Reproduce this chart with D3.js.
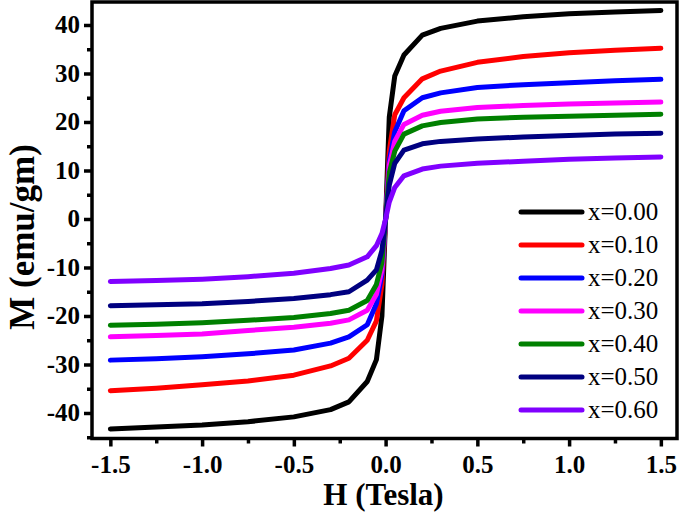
<!DOCTYPE html>
<html lang="en">
<head>
  <meta charset="UTF-8" />
  <title>M-H loops</title>
  <script src="https://d3js.org/d3.v7.min.js"></script>
  <style>
    body { margin: 0; background: #fff; }
    svg { display: block; font-family: "Liberation Serif", "Times New Roman", serif; }
  </style>
</head>
<body>
  <svg id="chart" width="685" height="512"></svg>
  <script>
    // field values (Tesla)
    const fieldH = [-1.5, -1.25, -1.0, -0.75, -0.5, -0.3, -0.2, -0.1, -0.05, -0.02, 0,
                    0.02, 0.05, 0.1, 0.2, 0.3, 0.5, 0.75, 1.0, 1.25, 1.5];

    const seriesNames = ["x=0.00", "x=0.10", "x=0.20", "x=0.30", "x=0.40", "x=0.50", "x=0.60"];
    const seriesColors = ["#000000", "#ff0000", "#0000ff", "#ff00ff", "#008000", "#000080", "#8000ff"];

    // magnetisation (emu/gm)
    const mX000 = [-43.3, -42.9, -42.5, -41.8, -40.8, -39.3, -37.7, -33.5, -29.0, -20.0, 0,
                   21.0, 29.5, 33.8, 37.9, 39.3, 40.8, 41.7, 42.3, 42.7, 43.0];
    const mX010 = [-35.4, -34.9, -34.2, -33.4, -32.2, -30.3, -28.7, -25.0, -21.0, -13.5, 0,
                   14.0, 21.5, 25.0, 28.9, 30.5, 32.3, 33.5, 34.3, 34.8, 35.2];
    const mX020 = [-29.1, -28.8, -28.4, -27.8, -27.0, -25.6, -24.3, -21.8, -17.5, -11.5, 0,
                   12.0, 18.0, 22.3, 25.0, 26.0, 27.1, 27.7, 28.1, 28.5, 28.8];
    const mX030 = [-24.3, -24.0, -23.7, -23.0, -22.3, -21.5, -20.8, -18.8, -15.5, -10.5, 0,
                   11.0, 16.0, 19.5, 21.4, 22.2, 23.0, 23.4, 23.7, 23.9, 24.1];
    const mX040 = [-21.9, -21.7, -21.4, -20.9, -20.3, -19.5, -18.8, -16.8, -13.5, -9.0, 0,
                   9.5, 14.0, 17.5, 19.2, 19.9, 20.6, 21.0, 21.2, 21.4, 21.6];
    const mX050 = [-17.9, -17.7, -17.5, -17.0, -16.4, -15.6, -15.0, -12.6, -10.5, -6.5, 0,
                   7.0, 11.5, 14.2, 15.5, 16.0, 16.5, 16.9, 17.2, 17.5, 17.7];
    const mX060 = [-12.9, -12.7, -12.4, -11.9, -11.2, -10.2, -9.5, -7.8, -5.5, -3.0, 0,
                   3.5, 6.5, 8.9, 10.3, 10.9, 11.5, 11.9, 12.3, 12.6, 12.8];

    const seriesValues = [mX000, mX010, mX020, mX030, mX040, mX050, mX060];

    const xTicks = [-1.5, -1.0, -0.5, 0.0, 0.5, 1.0, 1.5];
    const xMinor = [-1.25, -0.75, -0.25, 0.25, 0.75, 1.25];
    const yTicks = [-40, -30, -20, -10, 0, 10, 20, 30, 40];
    const yMinor = [-45, -35, -25, -15, -5, 5, 15, 25, 35];

    const svg = d3.select("#chart");
    const plot = { left: 92, right: 677, top: 2, bottom: 438.5 };
    const serif = '"Liberation Serif", "Times New Roman", serif';

    const x = d3.scaleLinear().domain([-1.6, 1.588]).range([plot.left, plot.right]);
    const y = d3.scaleLinear().domain([-45.26, 44.74]).range([plot.bottom, plot.top]);

    // curves
    const line = d3.line()
      .x((d, i) => x(fieldH[i]))
      .y(d => y(d));

    seriesValues.forEach((vals, k) => {
      svg.append("path")
        .datum(vals)
        .attr("d", line)
        .attr("fill", "none")
        .attr("stroke", seriesColors[k])
        .attr("stroke-width", 5)
        .attr("stroke-linecap", "round")
        .attr("stroke-linejoin", "round");
    });

    // frame
    svg.append("rect")
      .attr("x", plot.left).attr("y", plot.top)
      .attr("width", plot.right - plot.left)
      .attr("height", plot.bottom - plot.top)
      .attr("fill", "none")
      .attr("stroke", "#000")
      .attr("stroke-width", 3.5);

    // axes
    const minus = s => s.replace("\u2212", "-");

    function styleAxis(g) {
      g.attr("font-family", serif).attr("font-size", 25).attr("font-weight", "bold");
      g.select(".domain").remove();
      g.selectAll(".tick line").attr("stroke", "#000").attr("stroke-width", 3.5);
      g.selectAll(".tick text").attr("fill", "#000");
    }

    svg.append("g")
      .attr("transform", `translate(0,${plot.bottom})`)
      .call(d3.axisBottom(x).tickValues(xTicks).tickFormat(d => minus(d3.format(".1f")(d)))
        .tickSize(8).tickPadding(9))
      .call(styleAxis);

    svg.append("g")
      .attr("transform", `translate(0,${plot.bottom})`)
      .call(d3.axisBottom(x).tickValues(xMinor).tickFormat("").tickSize(5))
      .call(styleAxis);

    svg.append("g")
      .attr("transform", `translate(${plot.left},0)`)
      .call(d3.axisLeft(y).tickValues(yTicks).tickFormat(d => minus(d3.format("d")(d)))
        .tickSize(8).tickPadding(4))
      .call(styleAxis);

    svg.append("g")
      .attr("transform", `translate(${plot.left},0)`)
      .call(d3.axisLeft(y).tickValues(yMinor).tickFormat("").tickSize(5))
      .call(styleAxis);

    // axis titles
    svg.append("text")
      .attr("x", (plot.left + plot.right) / 2 - 1)
      .attr("y", 505)
      .attr("text-anchor", "middle")
      .attr("font-weight", "bold")
      .attr("font-size", 31)
      .text("H (Tesla)");

    svg.append("text")
      .attr("transform", "translate(34,237) rotate(-90)")
      .attr("text-anchor", "middle")
      .attr("font-weight", "bold")
      .attr("font-size", 35)
      .text("M (emu/gm)");

    // legend
    const legendTop = 212, legendStep = 33;
    seriesNames.forEach((name, k) => {
      const ly = legendTop + k * legendStep;
      svg.append("line")
        .attr("x1", 521).attr("x2", 582)
        .attr("y1", ly).attr("y2", ly)
        .attr("stroke", seriesColors[k])
        .attr("stroke-width", 5)
        .attr("stroke-linecap", "round");
      svg.append("text")
        .attr("x", 588)
        .attr("y", ly + 8)
        .attr("font-size", 25)
        .attr("fill", "#000")
        .text(name);
    });
  </script>
</body>
</html>
